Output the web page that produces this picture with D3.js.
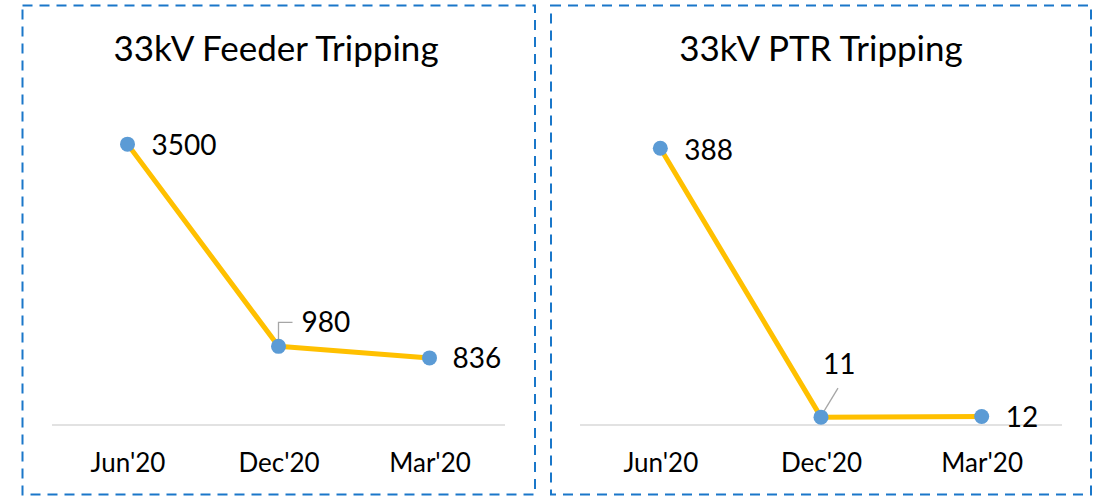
<!DOCTYPE html>
<html>
<head>
<meta charset="utf-8">
<script src="https://cdn.jsdelivr.net/npm/d3@7"></script>
<style>
  html, body { margin: 0; padding: 0; background: #ffffff; }
  svg { display: block; }
  text { font-family: Lato, "Open Sans", sans-serif; fill: #000; }
</style>
</head>
<body>
<svg id="chart" width="1096" height="497"></svg>
<script>
// ---- data ----
const categories = ["Jun'20", "Dec'20", "Mar'20"];
const feederValues = [3500, 980, 836];
const ptrValues = [388, 11, 12];
const feederTitle = "33kV Feeder Tripping";
const ptrTitle = "33kV PTR Tripping";
const feederMax = 4000;
const ptrMax = 450;

const svg = d3.select("#chart");

function drawPanel(opts) {
  const g = svg.append("g");
  // dashed border
  g.append("rect")
    .attr("x", opts.box[0]).attr("y", opts.box[1])
    .attr("width", opts.box[2] - opts.box[0]).attr("height", opts.box[3] - opts.box[1])
    .attr("fill", "none")
    .attr("stroke", "#1a77c9")
    .attr("stroke-width", 2)
    .attr("stroke-dasharray", "10,7");

  // title
  g.append("text")
    .attr("x", opts.titleX).attr("y", 61)
    .attr("text-anchor", "middle")
    .style("font-size", "35px")
    .text(opts.title);

  const x = d3.scalePoint().domain(categories).range([opts.plot[0], opts.plot[1]]).padding(0.5);
  const y = d3.scaleLinear().domain([0, opts.max]).range([425, 104]);

  // category axis
  const axis = d3.axisBottom(x).tickSize(0).tickPadding(0);
  const ax = g.append("g").attr("transform", `translate(0,${y(0)})`).call(axis);
  ax.select(".domain").attr("stroke", "#d9d9d9").attr("stroke-width", 1.5)
    .attr("d", `M${opts.plot[0]},0H${opts.plot[1]}`);
  ax.selectAll(".tick text")
    .attr("y", 47).attr("dy", null)
    .style("font-size", "26px")
    .style("font-family", "Lato, 'Open Sans', sans-serif")
    .attr("fill", "#000");

  const data = categories.map((c, i) => ({ c, v: opts.values[i] }));

  // line
  g.append("path")
    .datum(data)
    .attr("fill", "none")
    .attr("stroke", "#ffc000")
    .attr("stroke-width", 5)
    .attr("stroke-linejoin", "round")
    .attr("d", d3.line().x(d => x(d.c)).y(d => y(d.v)));

  // leader lines
  data.forEach((d, i) => {
    const L = opts.labels[i];
    if (L.leader) {
      const px = x(d.c), py = y(d.v);
      g.append("path")
        .attr("fill", "none")
        .attr("stroke", "#a6a6a6")
        .attr("stroke-width", 1.3)
        .attr("d", L.leader(px, py));
    }
  });

  // markers
  g.selectAll("circle.m").data(data).enter().append("circle")
    .attr("cx", d => x(d.c)).attr("cy", d => y(d.v)).attr("r", 7.5)
    .attr("fill", "#5b9bd5");

  // data labels
  g.selectAll("text.lbl").data(data).enter().append("text")
    .attr("x", (d, i) => x(d.c) + opts.labels[i].dx)
    .attr("y", (d, i) => y(d.v) + opts.labels[i].dy)
    .style("font-size", "28px")
    .text(d => d.v);
}

drawPanel({
  box: [22.5, 5.5, 535, 494.5],
  titleX: 276,
  title: feederTitle,
  plot: [52, 505],
  max: feederMax,
  values: feederValues,
  labels: [
    { dx: 24, dy: 11 },
    { dx: 23, dy: -14,
      leader: (px, py) => `M${px},${py - 3}V${py - 24}H${px + 14}` },
    { dx: 23, dy: 10 }
  ]
});

drawPanel({
  box: [551, 5.5, 1091, 494.5],
  titleX: 821,
  title: ptrTitle,
  plot: [580, 1062],
  max: ptrMax,
  values: ptrValues,
  labels: [
    { dx: 24, dy: 12 },
    { dx: 2, dy: -43,
      leader: (px, py) => `M${px},${py - 1}L${px + 17},${py - 29}` },
    { dx: 24, dy: 11 }
  ]
});
</script>
</body>
</html>
